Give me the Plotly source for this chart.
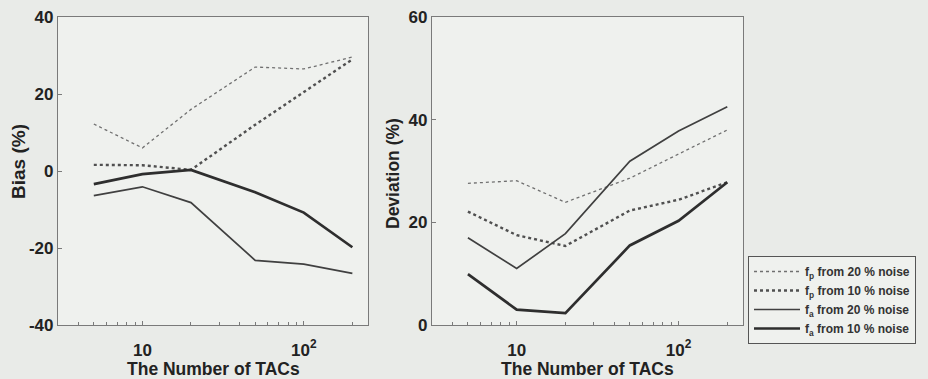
import plotly.graph_objects as go
import math

n_tacs = [5, 10, 20, 50, 100, 200]

series_names = [
    "f<sub>p</sub> from 20 % noise",
    "f<sub>p</sub> from 10 % noise",
    "f<sub>a</sub> from 20 % noise",
    "f<sub>a</sub> from 10 % noise",
]

bias_fp20 = [12.2, 6.0, 16.0, 27.0, 26.5, 29.6]
bias_fp10 = [1.6, 1.5, 0.3, 12.0, 20.5, 29.0]
bias_fa20 = [-6.4, -4.1, -8.2, -23.2, -24.2, -26.6]
bias_fa10 = [-3.4, -0.8, 0.3, -5.5, -10.8, -19.8]

dev_fp20 = [27.6, 28.1, 23.9, 28.6, 33.3, 38.0]
dev_fp10 = [22.1, 17.5, 15.4, 22.3, 24.4, 27.8]
dev_fa20 = [17.0, 11.0, 17.8, 31.9, 37.8, 42.5]
dev_fa10 = [9.9, 3.0, 2.3, 15.5, 20.3, 27.8]

bias_ticks = [-40, -20, 0, 20, 40]
dev_ticks = [0, 20, 40, 60]
x_tickvals = [10, 100]
x_ticktext = ["<b>10</b>", "<b>10<sup>2</sup></b>"]
x_minor = [3, 4, 5, 6, 7, 8, 9, 20, 30, 40, 50, 60, 70, 80, 90, 200]

styles = [
    dict(color="#707070", width=1.3, dash="dot"),
    dict(color="#505050", width=2.4, dash="dot"),
    dict(color="#404040", width=1.7, dash="solid"),
    dict(color="#2e2e2e", width=2.7, dash="solid"),
]

fig = go.Figure()
bias = [bias_fp20, bias_fp10, bias_fa20, bias_fa10]
dev = [dev_fp20, dev_fp10, dev_fa20, dev_fa10]
for i in range(4):
    fig.add_trace(go.Scatter(x=n_tacs, y=bias[i], mode="lines", line=styles[i],
                             name="<b>" + series_names[i] + "</b>", showlegend=True,
                             xaxis="x", yaxis="y"))
for i in range(4):
    fig.add_trace(go.Scatter(x=n_tacs, y=dev[i], mode="lines", line=styles[i],
                             name="<b>" + series_names[i] + "</b>", showlegend=False,
                             xaxis="x2", yaxis="y2"))

font = "Liberation Sans, Arial, sans-serif"
axcol = "#7a7a7a"
xr = [math.log10(3), math.log10(250)]
tickfont = dict(family=font, size=17, color="#222")


def xaxis(domain, anchor):
    return dict(domain=domain, anchor=anchor, type="log", range=xr,
                tickvals=x_tickvals, ticktext=x_ticktext, ticks="inside",
                ticklen=4, tickcolor=axcol, showgrid=False, zeroline=False,
                showline=True, linecolor=axcol, linewidth=1.2, mirror=True,
                minor=dict(tickvals=x_minor, ticks="inside", ticklen=2.5, tickcolor=axcol),
                tickfont=tickfont, ticklabelstandoff=9, automargin=False)


def yaxis(domain, anchor, rng, ticks):
    return dict(domain=domain, anchor=anchor, range=rng, tickvals=ticks,
                ticktext=["<b>%d</b>" % v for v in ticks],
                ticks="inside", ticklen=4, tickcolor=axcol, showgrid=False,
                zeroline=False, showline=True, linecolor=axcol, linewidth=1.2,
                mirror=True, tickfont=tickfont, automargin=False)


ydom = [1 - 325 / 379, 1 - 17 / 379]
title_font = dict(family=font, size=17.5, color="#222")
fig.update_layout(
    width=928, height=379,
    margin=dict(l=0, r=0, t=0, b=0),
    paper_bgcolor="#e9ebe8", plot_bgcolor="#eff1ee",
    template="none",
    font=dict(family=font),
    xaxis=xaxis([58 / 928, 368 / 928], "y"),
    yaxis=yaxis(ydom, "x", [-40, 40], bias_ticks),
    xaxis2=xaxis([432 / 928, 743 / 928], "y2"),
    yaxis2=yaxis(ydom, "x2", [0, 60], dev_ticks),
    legend=dict(x=748 / 928, y=1 - 256 / 379, xanchor="left", yanchor="top",
                bgcolor="#eff1ee", bordercolor="#555", borderwidth=1,
                font=dict(family=font, size=12, color="#333"),
                itemwidth=46, tracegroupgap=0),
    annotations=[
        dict(text="<b>The Number of TACs</b>", x=(58 + 368) / 2 / 928, y=1 - 369 / 379,
             xref="paper", yref="paper", showarrow=False, xanchor="center", yanchor="middle",
             font=title_font),
        dict(text="<b>The Number of TACs</b>", x=(432 + 743) / 2 / 928, y=1 - 369 / 379,
             xref="paper", yref="paper", showarrow=False, xanchor="center", yanchor="middle",
             font=title_font),
        dict(text="<b>Bias (%)</b>", x=18 / 928, y=1 - 162 / 379, textangle=-90,
             xref="paper", yref="paper", showarrow=False, xanchor="center", yanchor="middle",
             font=dict(family=font, size=19, color="#222")),
        dict(text="<b>Deviation (%)</b>", x=393 / 928, y=1 - 174 / 379, textangle=-90,
             xref="paper", yref="paper", showarrow=False, xanchor="center", yanchor="middle",
             font=title_font),
    ],
)

fig.write_html("out.html", config={"displayModeBar": False},
               post_script="document.body.style.margin='0';")
